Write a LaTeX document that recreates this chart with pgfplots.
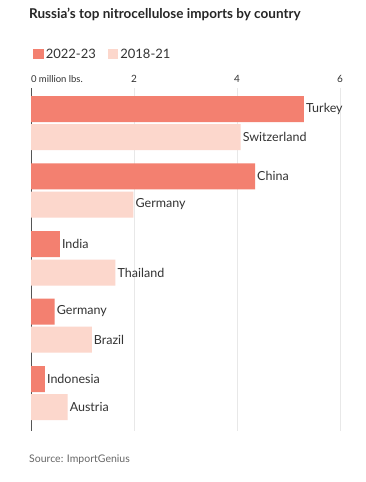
\documentclass[border=0pt]{standalone}
\usepackage{fontspec}
\setmainfont{Lato}
\usepackage{pgfplots}
\pgfplotsset{compat=1.18}
\usepackage{pgfplotstable}
\definecolor{cnew}{RGB}{243,128,112}
\definecolor{cold}{RGB}{252,215,204}
\definecolor{gridc}{RGB}{232,232,232}
\definecolor{axc}{RGB}{85,85,85}
\definecolor{txt}{RGB}{51,51,51}
\pgfplotstableread{
y x label
109 5.30 Turkey
176.3 4.35 China
244 0.56 India
311.5 0.46 Germany
379 0.27 Indonesia
}\newdata
\pgfplotstableread{
y x label
137 4.07 Switzerland
204.5 1.99 Germany
272.5 1.64 Thailand
339.5 1.18 Brazil
407 0.71 Austria
}\olddata
\begin{document}
\begin{tikzpicture}
\path[use as bounding box, fill=white] (0pt,0pt) rectangle (366pt,-482pt);
\node[anchor=west, font=\bfseries\fontsize{13.5pt}{15pt}\selectfont, text=black!85, inner sep=0pt] at (29pt,-14pt) {Russia’s top nitrocellulose imports by country};
\node[anchor=west, font=\fontsize{10.5pt}{12pt}\selectfont, text=black!60, inner sep=0pt] at (29pt,-460pt) {Source: ImportGenius};
\begin{axis}[
  at={(31pt,-88pt)}, anchor=north west,
  scale only axis, width=309pt, height=343pt,
  xmin=0, xmax=6, ymin=88, ymax=431, y dir=reverse,
  xbar, bar shift=0pt, bar width=26,
  axis line style={draw=none},
  ytick=\empty,
  xtick={2,4,6}, xticklabel pos=upper,
  extra x ticks={0}, extra x tick labels={\makebox[0pt][l]{\fontsize{9.5pt}{11pt}\selectfont 0 million lbs.}},
  extra x tick style={grid style={axc, line width=1pt}, xticklabel pos=upper},
  xmajorgrids, grid style={gridc, line width=0.8pt},
  major tick length=0pt,
  xticklabel style={font=\fontsize{10pt}{12pt}\selectfont, text=txt, anchor=south, yshift=2pt},
  /pgf/number format/assume math mode=true,
  point meta=explicit symbolic,
  nodes near coords={\pgfplotspointmeta},
  every node near coord/.append style={anchor=west, xshift=1pt, inner sep=1pt, font=\fontsize{12.5pt}{14pt}\selectfont, text=txt},
  legend columns=2,
  legend style={draw=none, fill=none, at={(axis description cs:-0.003,1.099)}, anchor=west, font=\fontsize{13pt}{15pt}\selectfont, text=txt, /tikz/every even column/.style={column sep=10pt}, nodes={inner sep=2pt}},
  legend image code/.code={\fill[#1] (0pt,-5.25pt) rectangle (10.5pt,5.25pt);},
  clip=false,
]
\addplot[fill=cnew, draw=none] table[x=x, y=y, meta=label] {\newdata};
\addlegendentry{2022-23}
\addplot[fill=cold, draw=none] table[x=x, y=y, meta=label] {\olddata};
\addlegendentry{2018-21}
\end{axis}
\end{tikzpicture}
\end{document}
